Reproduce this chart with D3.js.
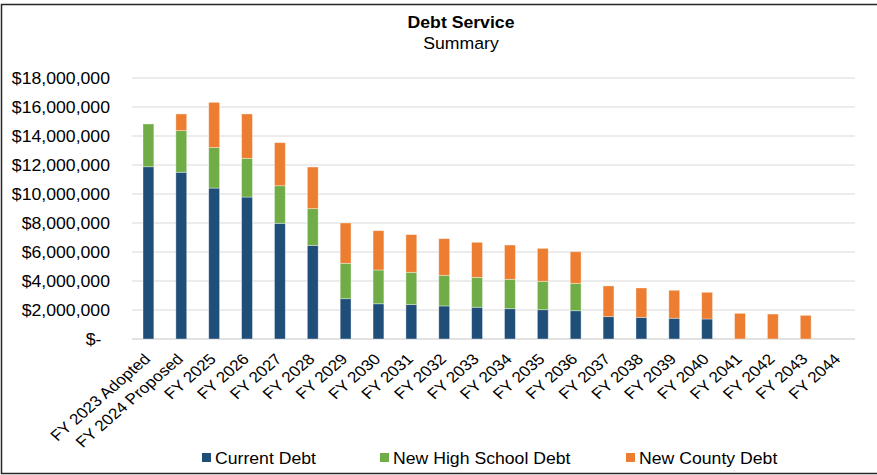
<!DOCTYPE html>
<html>
<head>
<meta charset="utf-8">
<script src="https://cdn.jsdelivr.net/npm/d3@7"></script>
<style>
  html, body { margin: 0; padding: 0; background: #fff; }
  svg { display: block; font-family: "Liberation Sans", Arial, sans-serif; }
</style>
</head>
<body>
<svg id="chart" width="877" height="475"></svg>
<script>
const categories = ["FY 2023 Adopted","FY 2024 Proposed","FY 2025","FY 2026","FY 2027","FY 2028","FY 2029","FY 2030","FY 2031","FY 2032","FY 2033","FY 2034","FY 2035","FY 2036","FY 2037","FY 2038","FY 2039","FY 2040","FY 2041","FY 2042","FY 2043","FY 2044"];
const seriesNames = ["Current Debt","New High School Debt","New County Debt"];
const currentDebt    = [11880000,11500000,10410000,9790000,7980000,6460000,2780000,2430000,2370000,2280000,2190000,2090000,2020000,1950000,1540000,1490000,1430000,1380000,0,0,0,0];
const highSchoolDebt = [2950000,2870000,2790000,2670000,2590000,2530000,2440000,2330000,2230000,2110000,2060000,2030000,1960000,1890000,0,0,0,0,0,0,0,0];
const countyDebt     = [0,1150000,3120000,3060000,2970000,2870000,2780000,2710000,2600000,2530000,2420000,2360000,2270000,2180000,2120000,2030000,1930000,1840000,1770000,1720000,1630000,0];
const yTicks = [0,2000000,4000000,6000000,8000000,10000000,12000000,14000000,16000000,18000000];
const colors = ["#1f4e79","#70ad47","#ed7d31"];

const svg = d3.select("#chart");
const W = 877, H = 475;
const m = {left: 132, right: 22, top: 78, bottom: 136};
const SX = 1.07;

// border
svg.append("rect").attr("x",1.5).attr("y",4.5).attr("width",W+5).attr("height",469)
  .attr("fill","#fff").attr("stroke","#262626").attr("stroke-width",1.5);

// titles
svg.append("text").attr("transform",`translate(461,28) scale(${SX},1)`).attr("text-anchor","middle")
  .attr("font-size",16.5).attr("font-weight","bold").attr("fill","#000").text("Debt Service");
svg.append("text").attr("transform",`translate(461,49) scale(${SX},1)`).attr("text-anchor","middle")
  .attr("font-size",16.5).attr("fill","#000").text("Summary");

const x = d3.scaleBand().domain(categories).range([m.left, W - m.right]).paddingInner(0.67).paddingOuter(0.335);
const y = d3.scaleLinear().domain([0,18000000]).range([H - m.bottom, m.top]);

// gridlines
svg.append("g").selectAll("line").data(yTicks).join("line")
  .attr("x1", m.left).attr("x2", W - m.right)
  .attr("y1", d => y(d)).attr("y2", d => y(d))
  .attr("stroke", "#d9d9d9").attr("stroke-width", d => d === 0 ? 1.5 : 1);

// y axis labels
const fmt = d => d === 0 ? "$-" : "$" + d3.format(",")(d);
const yAxis = d3.axisLeft(y).tickValues(yTicks).tickFormat(fmt).tickSize(0).tickPadding(0);
const yg = svg.append("g").attr("transform", `translate(110,0)`).call(yAxis);
yg.select(".domain").remove();
yg.selectAll("text").attr("font-size",16.5).attr("fill","#000")
  .attr("font-family","Liberation Sans, Arial, sans-serif")
  .attr("x", d => d === 0 ? -8 : 0)
  .attr("transform", `scale(${SX},1)`);

// stacked data
const rows = categories.map((c,i) => ({cat:c, "Current Debt":currentDebt[i], "New High School Debt":highSchoolDebt[i], "New County Debt":countyDebt[i]}));
const stack = d3.stack().keys(seriesNames)(rows);

svg.append("g").selectAll("g").data(stack).join("g")
  .attr("fill", (d,i) => colors[i])
  .selectAll("rect").data(d => d.filter(p => p[1] - p[0] > 0)).join("rect")
  .attr("x", d => x(d.data.cat))
  .attr("width", x.bandwidth())
  .attr("y", d => y(d[1]))
  .attr("height", d => y(d[0]) - y(d[1]))
  .attr("stroke", "rgba(255,255,255,0.45)").attr("stroke-width", 0.8);

// x labels
const xAxis = d3.axisBottom(x).tickSize(0).tickPadding(0);
const xg = svg.append("g").attr("transform", `translate(0,${H - m.bottom})`).call(xAxis);
xg.select(".domain").remove();
xg.selectAll("text")
  .attr("font-size",15).attr("fill","#000")
  .attr("font-family","Liberation Sans, Arial, sans-serif")
  .attr("text-anchor","end")
  .attr("x",0).attr("y",0).attr("dy",0)
  .attr("transform","translate(3,21) scale(1.15,1) rotate(-45)");

// legend
const legX = [202, 380, 626];
const lg = svg.append("g").selectAll("g").data(seriesNames).join("g")
  .attr("transform", (d,i) => `translate(${legX[i]},458)`);
lg.append("rect").attr("x",0).attr("y",-5).attr("width",9).attr("height",9).attr("fill",(d,i)=>colors[i]);
lg.append("text").attr("transform",`translate(13,0) scale(${SX},1)`).attr("dy","0.35em").attr("font-size",16.5).attr("fill","#000").text(d=>d);
</script>
</body>
</html>
